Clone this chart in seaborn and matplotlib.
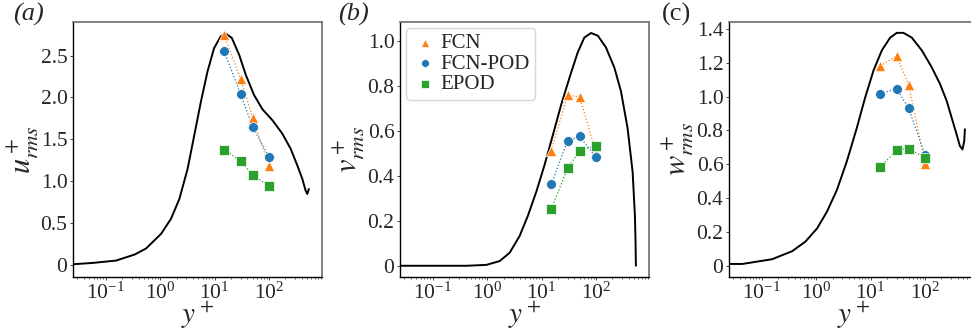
import numpy as np
import pandas as pd
import seaborn as sns
import matplotlib.pyplot as plt
from matplotlib.ticker import FuncFormatter, LogLocator

# sample locations used by the models
yp_pts = [15, 30, 50, 100]

# reference DNS profiles
u_yp = [0.025, 0.058, 0.155, 0.34, 0.55, 1.04, 1.58, 2.25, 3.19, 4.23, 5.6, 7.4, 9.8, 13.0, 16.1,
        20.7, 28.2, 37.4, 53, 75.5, 115, 175, 249, 331, 409, 470, 505, 540]
u_dns = [0.012, 0.028, 0.056, 0.128, 0.20, 0.375, 0.554, 0.79, 1.15, 1.55, 1.95, 2.31, 2.59, 2.73, 2.76,
         2.71, 2.51, 2.27, 2.03, 1.86, 1.73, 1.57, 1.39, 1.19, 1.03, 0.89, 0.85, 0.91]

v_yp = [0.025, 0.42, 0.97, 1.7, 2.59, 3.95, 5.6, 7.95, 11.3, 16.1, 22.9, 32.5, 46, 61, 81, 108,
        152, 217, 287, 380, 470, 518, 532, 540]
v_dns = [0.0, 0.0, 0.004, 0.021, 0.058, 0.133, 0.223, 0.328, 0.448, 0.582, 0.717, 0.837, 0.949, 1.016, 1.036, 1.024,
         0.972, 0.882, 0.777, 0.612, 0.418, 0.223, 0.11, 0.0]

w_yp = [0.025, 0.044, 0.155, 0.36, 0.63, 1.04, 1.58, 2.41, 3.67, 5.6, 7.95, 11.3, 16.1, 22.9, 30.3, 40.1,
        57, 87, 132, 188, 249, 308, 380, 437, 488, 525, 540]
w_dns = [0.012, 0.012, 0.04, 0.087, 0.143, 0.222, 0.321, 0.45, 0.619, 0.817, 0.995, 1.154, 1.273, 1.348, 1.376, 1.376,
         1.348, 1.273, 1.174, 1.075, 0.976, 0.876, 0.777, 0.708, 0.688, 0.738, 0.807]

# model predictions
u_fcn = [2.74, 2.22, 1.76, 1.18]
u_fcnpod = [2.55, 2.04, 1.65, 1.29]
u_epod = [1.38, 1.24, 1.08, 0.945]

v_fcn = [0.512, 0.76, 0.751, 0.504]
v_fcnpod = [0.362, 0.557, 0.576, 0.482]
v_epod = [0.253, 0.434, 0.513, 0.534]

w_fcn = [1.18, 1.24, 1.07, 0.604]
w_fcnpod = [1.017, 1.046, 0.931, 0.653]
w_epod = [0.584, 0.683, 0.693, 0.639]

sns.set_style('white')
plt.rcParams['font.family'] = ['Liberation Serif', 'DejaVu Serif']
plt.rcParams['mathtext.fontset'] = 'stix'

fig = plt.figure(figsize=(9.71, 3.36), dpi=100)
lefts = [73, 400, 729]
axes = [fig.add_axes([l / 971, 59 / 336, 249 / 971, 255 / 336]) for l in lefts]

panels = [
    ('a', r'$u^+_{rms}$', u_yp, u_dns, u_fcn, u_fcnpod, u_epod, [0, 0.5, 1.0, 1.5, 2.0, 2.5]),
    ('b', r'$v^+_{rms}$', v_yp, v_dns, v_fcn, v_fcnpod, v_epod, [0, 0.2, 0.4, 0.6, 0.8, 1.0]),
    ('c', r'$w^+_{rms}$', w_yp, w_dns, w_fcn, w_fcnpod, w_epod, [0, 0.2, 0.4, 0.6, 0.8, 1.0, 1.2, 1.4]),
]
tag_x = [13, 338, 662]

for ax, (tag, ylab, yp, dns, fcn, fcnpod, epod, yt), tx in zip(axes, panels, tag_x):
    sns.lineplot(x=yp, y=dns, color='black', lw=1.4, ax=ax, sort=False, estimator=None)
    for vals, col, mk, name, sz in [(fcn, 'tab:orange', '^', 'FCN', 55),
                                    (fcnpod, 'tab:blue', 'o', 'FCN-POD', 50),
                                    (epod, 'tab:green', 's', 'EPOD', 45)]:
        sns.lineplot(x=yp_pts, y=vals, color=col, lw=0.9, linestyle=':', ax=ax)
        sns.scatterplot(x=yp_pts, y=vals, color=col, marker=mk, s=sz, ax=ax,
                        label=name, edgecolor='white', linewidth=0.5, zorder=3)
    ax.set_xscale('log')
    ax.set_xlim(0.025, 940)
    ax.xaxis.set_major_locator(LogLocator(base=10, numticks=20))
    ax.xaxis.set_minor_locator(LogLocator(base=10, subs=np.arange(2, 10), numticks=20))
    ax.set_yticks(yt)
    ax.yaxis.set_major_formatter(FuncFormatter(lambda v, p: '0' if v == 0 else f'{v:.1f}'))
    ax.set_xlabel(r'$y^+$', fontsize=21, labelpad=-3)
    ax.set_ylabel(ylab, fontsize=22, labelpad=0)
    ax.tick_params(axis='both', which='major', labelsize=15.5, length=2.5, width=0.6, pad=1.5,
                   left=True, bottom=True)
    ax.tick_params(axis='x', which='minor', length=1.5, width=0.5, bottom=True)
    for s in ['left', 'bottom']:
        ax.spines[s].set_color('black')
        ax.spines[s].set_linewidth(1.0)
    for s in ['top', 'right']:
        ax.spines[s].set_color('#777777')
        ax.spines[s].set_linewidth(1.3)
    fig.text(tx / 971, 1 - 3 / 336, f'({tag})', fontsize=19,
             fontstyle='italic' if tag != 'c' else 'normal', va='top', ha='left')
    if tag == 'b':
        ax.legend(loc='upper left', fontsize=15, handletextpad=0.1, borderpad=0.25,
                  labelspacing=0.05, handlelength=1.3, borderaxespad=0.3,
                  frameon=True, edgecolor='#cccccc', markerscale=0.8)
    else:
        ax.get_legend().remove()

axes[0].set_ylim(-0.14, 2.9)
axes[1].set_ylim(-0.05, 1.085)
axes[2].set_ylim(-0.065, 1.44)

fig.savefig('out.png', dpi=100)
